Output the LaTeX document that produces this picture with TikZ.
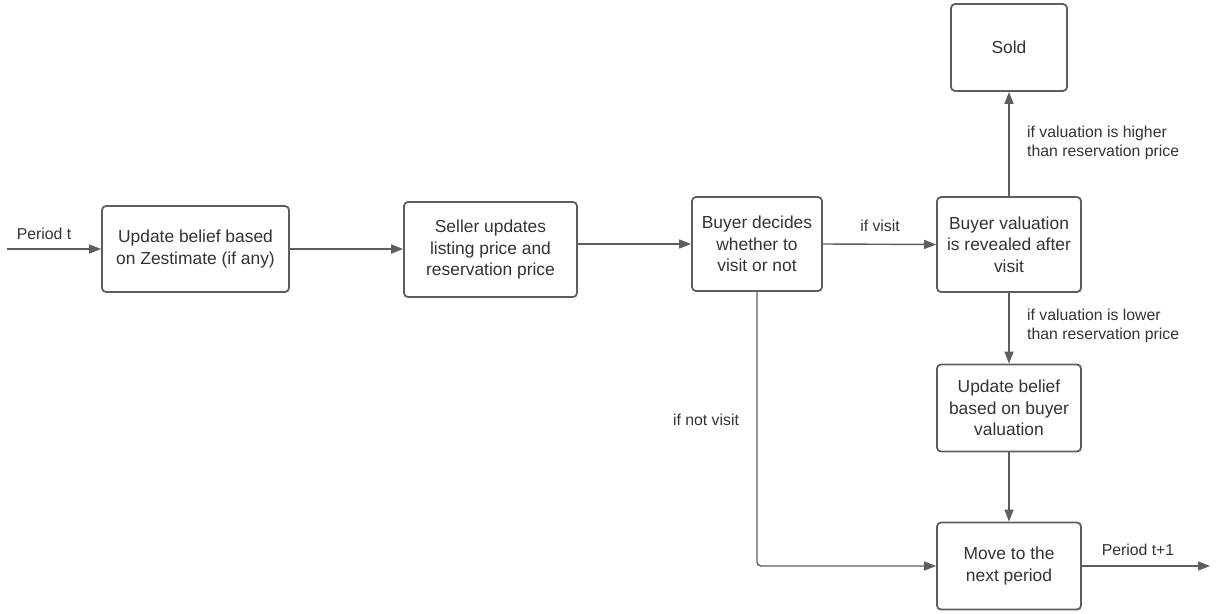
\documentclass[tikz,border=0pt]{standalone}
\usepackage{fontspec}
\setmainfont{Liberation Sans}
\usetikzlibrary{arrows.meta}
\definecolor{linegray}{HTML}{5E5E5E}
\definecolor{textgray}{HTML}{333333}
\tikzset{
  stepbox/.style={draw=linegray, line width=1.8pt, rounded corners=4pt, fill=white,
    align=center, text=textgray, inner sep=0pt,
    font=\fontsize{17.4}{21.7}\selectfont},
  flow/.style={draw=linegray, line width=1.4pt,
    -{Triangle[length=12pt,width=9pt]}},
  lbl/.style={text=textgray, inner sep=0pt, align=left,
    font=\fontsize{15.8}{19}\selectfont}
}
\begin{document}
\begin{tikzpicture}[x=1pt,y=-1pt]
\useasboundingbox (0,0) rectangle (1217,613);

% process boxes
\node[stepbox, minimum width=187pt, minimum height=86pt] (belief) at (195.5,249)
  {Update belief based\\on Zestimate (if any)};
\node[stepbox, minimum width=173pt, minimum height=95pt] (seller) at (490.5,249.5)
  {Seller updates\\listing price and\\reservation price};
\node[stepbox, minimum width=130pt, minimum height=94pt] (decide) at (757,244)
  {Buyer decides\\whether to\\visit or not};
\node[stepbox, minimum width=144pt, minimum height=95pt] (reveal) at (1009,244.5)
  {Buyer valuation\\is revealed after\\visit};
\node[stepbox, minimum width=116pt, minimum height=87pt] (sold) at (1009,47.5)
  {Sold};
\node[stepbox, minimum width=144pt, minimum height=87pt] (update) at (1009,408)
  {Update belief\\based on buyer\\valuation};
\node[stepbox, minimum width=144pt, minimum height=87pt] (next) at (1009,566)
  {Move to the\\next period};

% free ends of the entry and exit arrows
\coordinate (start) at (7,249);
\coordinate (finish) at (1210,566);

% connectors
\draw[flow] (start) -- (belief.west);
\draw[flow] (belief.east) -- (seller.west |- belief.east);
\draw[flow] (seller.east |- decide.west) -- (decide.west);
\draw[flow] (decide.east) -- (reveal.west);
\draw[flow] (reveal.north) -- (sold.south);
\draw[flow] (reveal.south) -- (update.north);
\draw[flow] (update.south) -- (next.north);
\draw[flow, rounded corners=4pt] (decide.south) -- (decide.south |- next.west) -- (next.west);
\draw[flow] (next.east) -- (finish);

% connector labels
\node[lbl] (lt) at (44,234) {Period t};
\node[lbl] (lvisit) at (880,226) {if visit};
\node[lbl] (lnot) at (706,420) {if not visit};
\node[lbl] (lnext) at (1138,550) {Period t+1};
\node[lbl, anchor=west] (lhigh) at (1027,142.5) {if valuation is higher\\than reservation price};
\node[lbl, anchor=west] (llow) at (1027,325.5) {if valuation is lower\\than reservation price};
\end{tikzpicture}
\end{document}
